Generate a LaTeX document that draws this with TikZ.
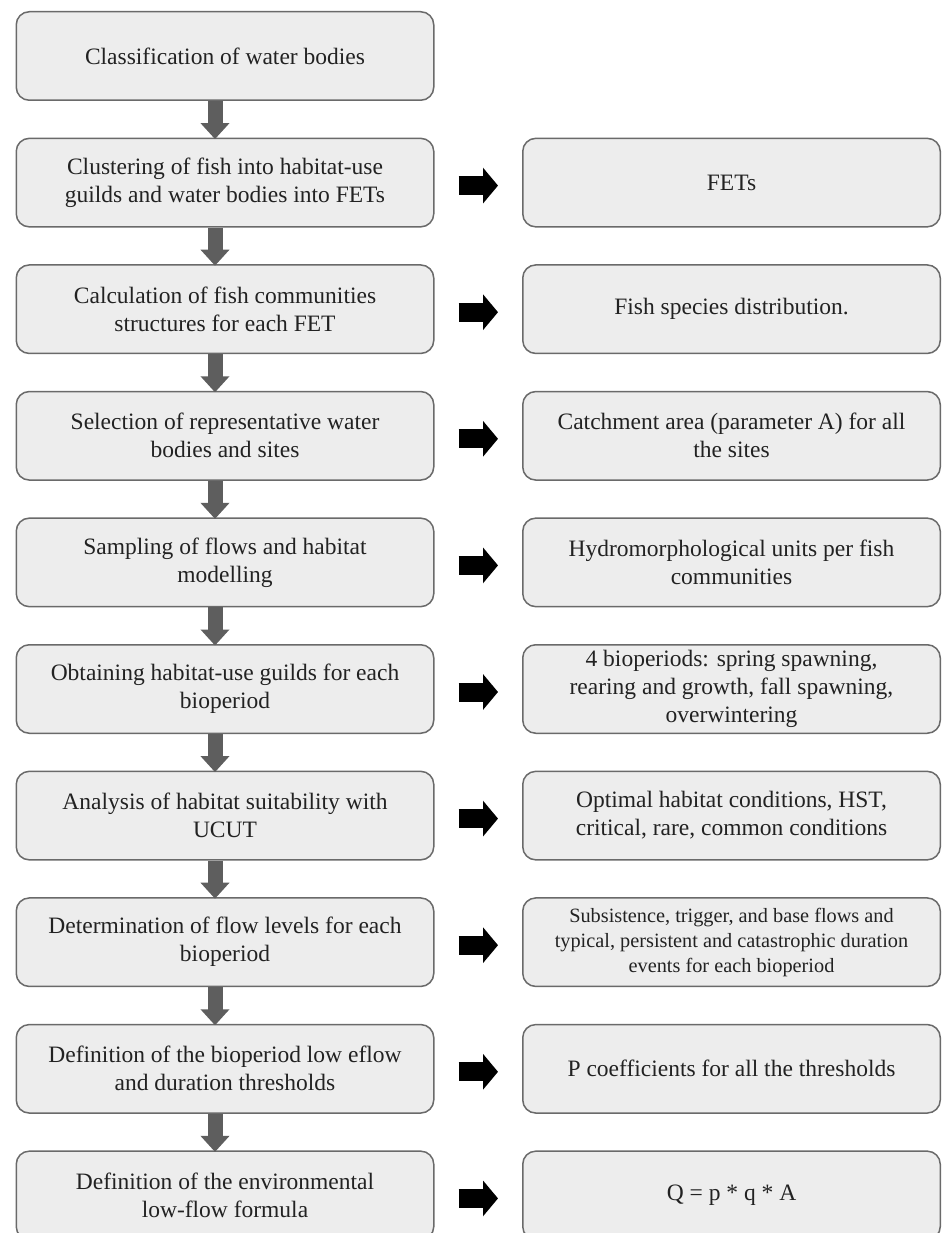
\documentclass[tikz,border=0pt]{standalone}
\usepackage{fontspec}
\setmainfont{Liberation Serif}
\usetikzlibrary{arrows.meta,calc}
\definecolor{boxfill}{HTML}{EDEDED}
\definecolor{boxline}{HTML}{6A6A6A}
\definecolor{ink}{HTML}{222222}
\definecolor{arrowgray}{HTML}{5E5E5E}
\begin{document}
\begin{tikzpicture}[x=1pt,y=-1pt,
  box/.style={draw=boxline, fill=boxfill, line width=1.5pt, rounded corners=13pt,
    minimum width=417.5pt, minimum height=88.5pt, inner sep=0pt, align=center,
    anchor=north west, text=ink, font=\fontsize{23.5}{28}\selectfont},
  smalltext/.style={font=\fontsize{20.3}{25}\selectfont},
  downarrow/.style={draw=arrowgray, line width=15pt, -{Triangle[width=28pt,length=16pt]}},
  sidearrow/.style={draw=black, line width=19pt, -{Triangle[width=35pt,length=15pt]}}]
\path[use as bounding box] (0,0) rectangle (949,1233);
\clip (0,0) rectangle (949,1233);

% left column: the steps of the method
\node[box] (L1)  at (15.5,11)     {Classification of water bodies};
\node[box] (L2)  at (15.5,137.6)  {Clustering of fish into habitat-use\\guilds and water bodies into FETs};
\node[box] (L3)  at (15.5,264.2)  {Calculation of fish communities\\structures for each FET};
\node[box] (L4)  at (15.5,390.8)  {Selection of representative water\\bodies and sites};
\node[box] (L5)  at (15.5,517.4)  {Sampling of flows and habitat\\modelling};
\node[box] (L6)  at (15.5,644)    {Obtaining habitat-use guilds for each\\bioperiod};
\node[box] (L7)  at (15.5,770.6)  {Analysis of habitat suitability with\\UCUT};
\node[box] (L8)  at (15.5,897.2)  {Determination of flow levels for each\\bioperiod};
\node[box] (L9)  at (15.5,1023.8) {Definition of the bioperiod low eflow\\and duration thresholds};
\node[box] (L10) at (15.5,1150.4) {Definition of the environmental\\low-flow formula};

% right column: the outcome of each step
\node[box] (R2)  at (522,137.6)  {FETs};
\node[box] (R3)  at (522,264.2)  {Fish species distribution.};
\node[box] (R4)  at (522,390.8)  {Catchment area (parameter A) for all\\the sites};
\node[box] (R5)  at (522,517.4)  {Hydromorphological units per fish\\communities};
\node[box] (R6)  at (522,644)    {4 bioperiods: spring spawning,\\rearing and growth, fall spawning,\\overwintering};
\node[box] (R7)  at (522,770.6)  {Optimal habitat conditions, HST,\\critical, rare, common conditions};
\node[box,smalltext] (R8) at (522,897.2) {Subsistence, trigger, and base flows and\\typical, persistent and catastrophic duration\\events for each bioperiod};
\node[box] (R9)  at (522,1023.8) {P coefficients for all the thresholds};
\node[box] (R10) at (522,1150.4) {Q = p * q * A};

% downward flow between the steps
\foreach \a/\b in {L1/L2,L2/L3,L3/L4,L4/L5,L5/L6,L6/L7,L7/L8,L8/L9,L9/L10}
  \draw[downarrow] ($(\a.south)+(-10,0)$) -- ($(\b.north)+(-10,1.5)$);

% each step leads to its outcome
\foreach \i in {2,...,10}
  \draw[sidearrow] ($(L\i.east)+(24,3)$) -- ($(R\i.west)+(-24,3)$);
\end{tikzpicture}
\end{document}
